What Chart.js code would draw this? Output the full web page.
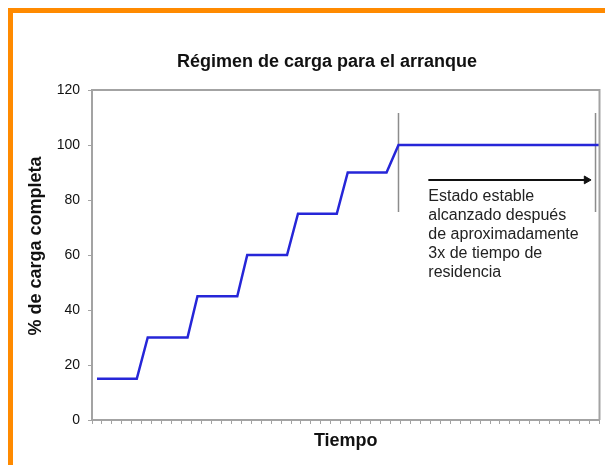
<!DOCTYPE html>
<html lang="es">
<head>
    <meta charset="UTF-8">
    <title>Régimen de carga para el arranque</title>
    <script src="https://cdn.jsdelivr.net/npm/chart.js"></script>
    <style>
        body { margin: 0; background: #fff; }
        canvas { display: block; }
    </style>
</head>
<body>
    <canvas id="chart" width="605" height="465"></canvas>

    <script>
        // Step curve: % of full load vs time (time in tick units, 0..51)
        const tiempo = [0.5, 4.5, 5.6, 9.6, 10.6, 14.6, 15.6, 19.6, 20.7, 24.6, 25.7, 29.6, 30.8, 51];
        const carga = [15, 15, 30, 30, 45, 45, 60, 60, 75, 75, 90, 90, 100, 100];

        // Two vertical markers around the steady-state region
        const marcaX = [30.8, 50.6];
        const marcaY = [75.6, 111.6];

        // Arrow across the steady-state region
        const flechaX = [33.8, 49.7];
        const flechaY = [87.3, 87.3];

        // Annotation text
        const notaX = 33.8;
        const notaY = 81.1;
        const notaLineas = ['Estado estable', 'alcanzado después', 'de aproximadamente', '3x de tiempo de', 'residencia'];

        const yTicks = [0, 20, 40, 60, 80, 100, 120];

        const FONT = 'Arial, "Liberation Sans", sans-serif';
        const AXIS_GREY = '#a3a3a3';

        const decoPlugin = {
            id: 'deco',
            beforeDraw(chart) {
                const ctx = chart.ctx;
                ctx.save();
                ctx.fillStyle = '#fff';
                ctx.fillRect(0, 0, chart.width, chart.height);
                // orange frame (top and left)
                ctx.fillStyle = '#ff8a00';
                ctx.fillRect(8, 8, chart.width - 8, 5);
                ctx.fillRect(8, 8, 5, chart.height - 8);
                ctx.restore();
            },
            afterDatasetsDraw(chart) {
                const ctx = chart.ctx;
                const area = chart.chartArea;
                const xs = chart.scales.x;
                const ys = chart.scales.y;
                ctx.save();

                // top and right edges of the plot box
                ctx.strokeStyle = AXIS_GREY;
                ctx.lineWidth = 2;
                ctx.beginPath();
                ctx.moveTo(area.left, area.top);
                ctx.lineTo(area.right, area.top);
                ctx.lineTo(area.right, area.bottom);
                ctx.stroke();

                // main title
                ctx.fillStyle = '#111';
                ctx.font = 'bold 18px ' + FONT;
                ctx.textAlign = 'center';
                ctx.textBaseline = 'middle';
                ctx.fillText('Régimen de carga para el arranque', 327, 62);

                // y axis title
                ctx.save();
                ctx.translate(36, 246);
                ctx.rotate(-Math.PI / 2);
                ctx.fillText('% de carga completa', 0, 0);
                ctx.restore();

                // annotation
                ctx.font = '16px ' + FONT;
                ctx.fillStyle = '#222';
                ctx.textAlign = 'left';
                const x0 = xs.getPixelForValue(notaX);
                const y0 = ys.getPixelForValue(notaY);
                notaLineas.forEach((t, i) => ctx.fillText(t, x0, y0 + i * 19));

                ctx.restore();
            }
        };

        window.onload = function () {
            const data = {
                datasets: [
                    {
                        label: 'Carga',
                        data: tiempo.map((t, i) => ({ x: t, y: carga[i] })),
                        borderColor: '#2626d8',
                        borderWidth: 2.5,
                        pointRadius: 0,
                        tension: 0
                    },
                    {
                        label: 'Marca 1',
                        data: marcaY.map(v => ({ x: marcaX[0], y: v })),
                        borderColor: '#8c8c8c',
                        borderWidth: 1.5,
                        pointRadius: 0
                    },
                    {
                        label: 'Marca 2',
                        data: marcaY.map(v => ({ x: marcaX[1], y: v })),
                        borderColor: '#8c8c8c',
                        borderWidth: 1.5,
                        pointRadius: 0
                    },
                    {
                        label: 'Flecha',
                        data: flechaX.map((t, i) => ({ x: t, y: flechaY[i] })),
                        borderColor: '#111',
                        backgroundColor: '#111',
                        borderWidth: 2,
                        pointStyle: 'triangle',
                        pointRotation: 90,
                        pointRadius: [0, 4.5],
                        pointBorderWidth: 1
                    }
                ]
            };

            const config = {
                type: 'line',
                data: data,
                plugins: [decoPlugin],
                options: {
                    responsive: false,
                    animation: false,
                    events: [],
                    layout: { padding: { left: 13, right: 4, top: 90, bottom: 0 } },
                    plugins: {
                        legend: { display: false },
                        tooltip: { enabled: false }
                    },
                    scales: {
                        x: {
                            type: 'linear',
                            min: 0,
                            max: 51,
                            afterFit: s => { s.height = 45; },
                            ticks: { display: false, stepSize: 1, maxTicksLimit: 60, autoSkip: false },
                            grid: { drawOnChartArea: false, drawTicks: true, tickLength: 4, color: AXIS_GREY, lineWidth: 1 },
                            border: { color: AXIS_GREY, width: 2 },
                            title: {
                                display: true,
                                text: 'Tiempo',
                                color: '#111',
                                font: { family: FONT, size: 18, weight: 'bold', lineHeight: 1.2 },
                                padding: { top: 0, bottom: 13 }
                            }
                        },
                        y: {
                            min: 0,
                            max: 120,
                            afterFit: s => { s.width = 79; },
                            afterBuildTicks: s => { s.ticks = yTicks.map(v => ({ value: v })); },
                            ticks: { color: '#111', padding: 8, font: { family: FONT, size: 14 } },
                            grid: { drawOnChartArea: false, drawTicks: true, tickLength: 4, color: AXIS_GREY },
                            border: { color: AXIS_GREY, width: 2 }
                        }
                    }
                }
            };

            new Chart(document.getElementById('chart'), config);
        };
    </script>
</body>
</html>
